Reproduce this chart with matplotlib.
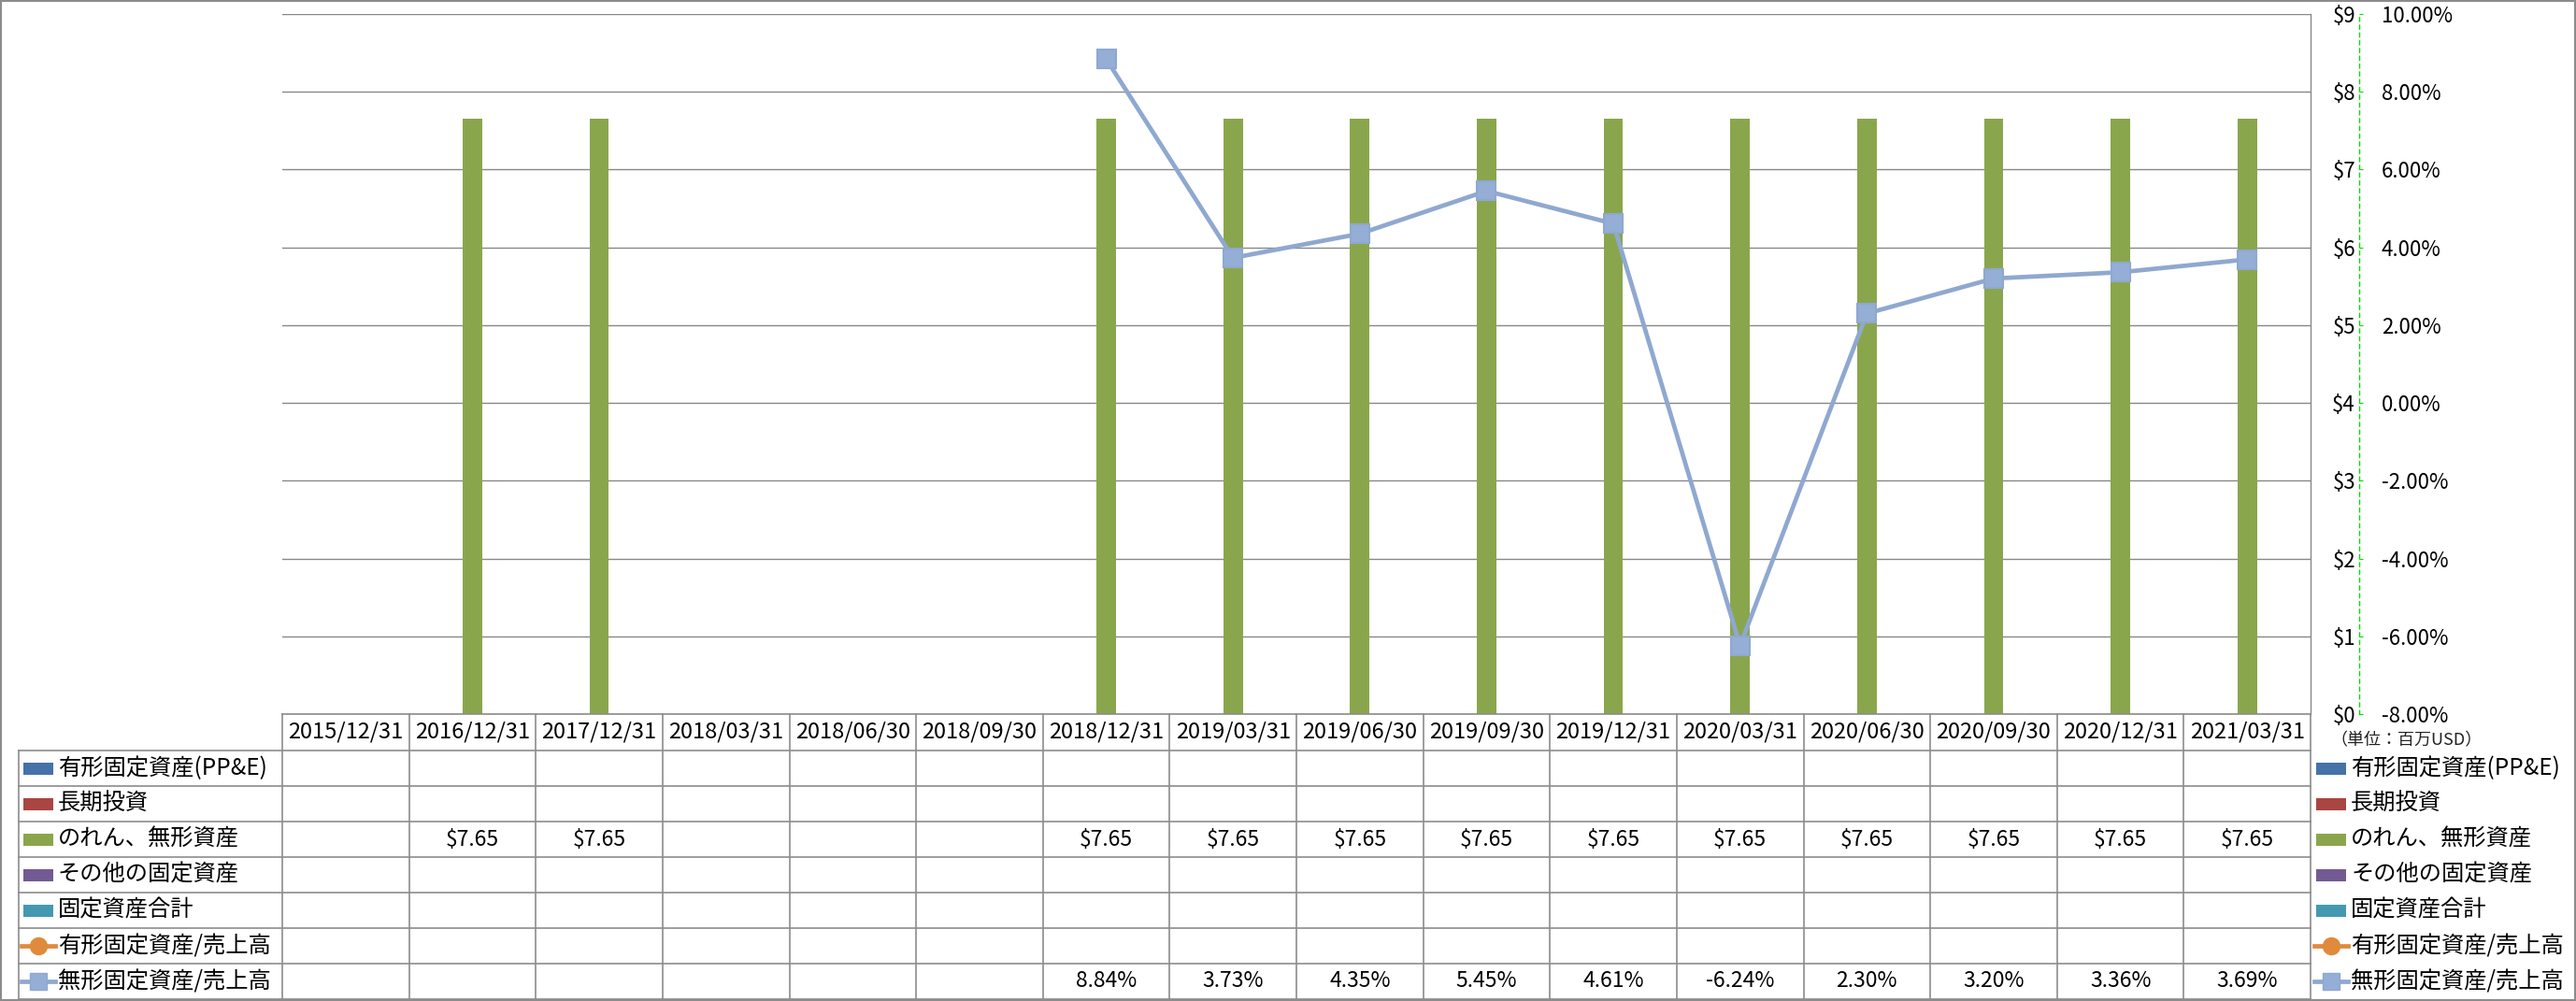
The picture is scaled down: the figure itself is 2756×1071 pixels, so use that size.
import matplotlib.pyplot as plt
import matplotlib.transforms as mtransforms
from matplotlib.patches import Rectangle
from matplotlib.lines import Line2D
import numpy as np

plt.rcParams['font.family'] = ['Noto Sans CJK JP', 'DejaVu Sans']

nan = np.nan

# データ
categories = ['2015/12/31', '2016/12/31', '2017/12/31', '2018/03/31', '2018/06/30',
              '2018/09/30', '2018/12/31', '2019/03/31', '2019/06/30', '2019/09/30',
              '2019/12/31', '2020/03/31', '2020/06/30', '2020/09/30', '2020/12/31',
              '2021/03/31']
ppe = [nan] * 16
lt_invest = [nan] * 16
goodwill = [nan, 7.65, 7.65, nan, nan, nan, 7.65, 7.65, 7.65, 7.65,
            7.65, 7.65, 7.65, 7.65, 7.65, 7.65]
other_fixed = [nan] * 16
total_fixed = [nan] * 16
tangible_ratio = [nan] * 16
intangible_ratio = [nan, nan, nan, nan, nan, nan, 8.84, 3.73, 4.35, 5.45,
                    4.61, -6.24, 2.30, 3.20, 3.36, 3.69]

bar_names = ['有形固定資産(PP&E)', '長期投資', 'のれん、無形資産', 'その他の固定資産', '固定資産合計']
line_names = ['有形固定資産/売上高', '無形固定資産/売上高']
bar_colors = ['#4672A8', '#A94643', '#8AA64C', '#735A93', '#4499B0']
line_colors = ['#E08A3C', '#8FA8D0']

usd_ticks = list(range(0, 10))
pct_ticks = list(range(-8, 11, 2))

W, H = 2756, 1071
fig = plt.figure(figsize=(W / 100, H / 100), dpi=100)

def fx(p):
    return p / W

def fy(p):
    return 1 - p / H

# 外枠
fig.patches.append(Rectangle((0.0005, 0.001), 0.999, 0.998, transform=fig.transFigure,
                             fill=False, edgecolor='#8C8C8C', lw=1.5))

ax = fig.add_axes([fx(302), fy(764), fx(2472 - 302), (764 - 15) / H])
ax2 = ax.twinx()

x = np.arange(len(categories))
n = len(bar_names)
bw = 1 / (n + 1.5)
for i, (vals, c) in enumerate(zip([ppe, lt_invest, goodwill, other_fixed, total_fixed], bar_colors)):
    ax.bar(x + (i - (n - 1) / 2) * bw, vals, width=bw, color=c, zorder=2)

ax.set_xlim(-0.5, len(categories) - 0.5)
ax.set_ylim(0, 9)
ax.set_xticks([])
ax.yaxis.tick_right()
ax.tick_params(axis='y', length=0, pad=34.5, labelsize=16)
ax.set_yticks(usd_ticks)
ax.set_yticklabels(['$%d' % v for v in usd_ticks])
for lbl in ax.get_yticklabels():
    lbl.set_ha('right')
ax.grid(axis='y', color='#888888', lw=1.0, zorder=0)
for s in ['top', 'left', 'bottom']:
    ax.spines[s].set_visible(False)
ax.spines['right'].set_color('#888888')
ax.spines['right'].set_linewidth(1.0)

ax2.set_ylim(-8, 10)
ax2.tick_params(axis='y', direction='out', length=3, color='#00E000', pad=14, labelsize=16)
ax2.set_yticks(pct_ticks)
ax2.set_yticklabels(['%.2f%%' % v for v in pct_ticks])
for lbl, v in zip(ax2.get_yticklabels(), pct_ticks):
    lbl.set_color('red' if v < 0 else 'black')
for s in ['top', 'left', 'bottom']:
    ax2.spines[s].set_visible(False)
ax2.spines['right'].set_position(('axes', 1 + 52 / 2170))
ax2.spines['right'].set_color('#00E000')
ax2.spines['right'].set_linestyle((0, (3, 3)))
ax2.spines['right'].set_linewidth(1.0)

for vals, c in zip([tangible_ratio, intangible_ratio], line_colors):
    mk = 'o' if c == line_colors[0] else 's'
    ax2.plot(x, vals, color=c, lw=3.4, marker=mk, markersize=15,
             markerfacecolor='#95AED6', markeredgecolor=c, markeredgewidth=1.5, zorder=3)

# データテーブル
tr = mtransforms.blended_transform_factory(ax.transData, fig.transFigure)
grid_c = '#8C8C8C'
top = 764
head_h = 39
row_h = 38
rows_top = top + head_h
nrows = 7
bottom = rows_top + row_h * nrows
left_px = 20
xl = -0.5 - (302 - left_px) / 2170 * len(categories)
xr = len(categories) - 0.5

fig.add_artist(Line2D([-0.5, xr], [fy(top)] * 2, transform=tr, color=grid_c, lw=1.2))
for r in range(nrows + 1):
    yy = fy(rows_top + r * row_h)
    fig.add_artist(Line2D([xl, xr], [yy, yy], transform=tr, color=grid_c, lw=1.2))
for k in range(len(categories) + 1):
    fig.add_artist(Line2D([k - 0.5, k - 0.5], [fy(top), fy(bottom)], transform=tr, color=grid_c, lw=1.2))
fig.add_artist(Line2D([xl, xl], [fy(rows_top), fy(bottom)], transform=tr, color=grid_c, lw=1.2))

for k, cat in enumerate(categories):
    fig.text(k, fy(top + head_h / 2), cat, transform=tr, ha='center', va='center', fontsize=17)

table_rows = [ppe, lt_invest, goodwill, other_fixed, total_fixed, tangible_ratio, intangible_ratio]
for r, vals in enumerate(table_rows):
    yc = fy(rows_top + r * row_h + row_h / 2)
    for k, v in enumerate(vals):
        if np.isnan(v):
            continue
        s = ('$%.2f' % v) if r < 5 else ('%.2f%%' % v)
        fig.text(k, yc, s, transform=tr, ha='center', va='center', fontsize=16.5)

# 凡例（テーブル内と右側）
all_names = bar_names + line_names
def legend_key(x0, r):
    yc = fy(rows_top + r * row_h + row_h / 2)
    if r < 5:
        fig.patches.append(Rectangle((fx(x0 + 2), yc - 6.5 / H), fx(32), 13 / H,
                                     transform=fig.transFigure, color=bar_colors[r], lw=0))
    else:
        c = line_colors[r - 5]
        mk = 'o' if r == 5 else 's'
        fig.add_artist(Line2D([fx(x0), fx(x0 + 36)], [yc, yc], color=c, lw=3.4))
        fig.add_artist(Line2D([fx(x0 + 18)], [yc], color=c, marker=mk, markersize=13,
                              markerfacecolor=c if r == 5 else '#95AED6', markeredgecolor=c))
    fig.text(fx(x0 + 39), yc, all_names[r], ha='left', va='center', fontsize=17.5)

for r in range(nrows):
    legend_key(23, r)
    legend_key(2476, r)

fig.text(fx(2493), fy(792), '（単位：百万USD）', ha='left', va='center', fontsize=13, color='#222222')

plt.savefig('out.png', dpi=100)
